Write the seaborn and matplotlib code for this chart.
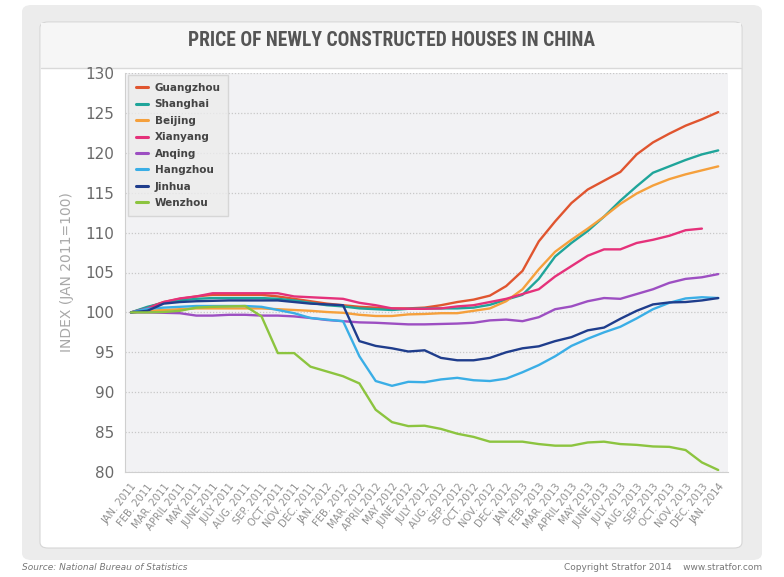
"""Price of newly constructed houses in China, Jan 2011 - Jan 2014."""

import numpy as np
import pandas as pd
import matplotlib
matplotlib.use("Agg")
import matplotlib.pyplot as plt
from matplotlib import font_manager
from matplotlib.patches import FancyBboxPatch
import seaborn as sns

# month labels, Jan 2011 .. Jan 2014
months = [
    "JAN. 2011", "FEB. 2011", "MAR. 2011", "APRIL 2011", "MAY 2011", "JUNE 2011",
    "JULY 2011", "AUG. 2011", "SEP. 2011", "OCT. 2011", "NOV. 2011", "DEC. 2011",
    "JAN. 2012", "FEB. 2012", "MAR. 2012", "APRIL 2012", "MAY 2012", "JUNE 2012",
    "JULY 2012", "AUG. 2012", "SEP. 2012", "OCT. 2012", "NOV. 2012", "DEC. 2012",
    "JAN. 2013", "FEB. 2013", "MAR. 2013", "APRIL 2013", "MAY 2013", "JUNE 2013",
    "JULY 2013", "AUG. 2013", "SEP. 2013", "OCT. 2013", "NOV. 2013", "DEC. 2013",
    "JAN. 2014",
]

guangzhou = [100, 100.6, 101.3, 101.7, 102.0, 102.2, 102.2, 102.2, 102.2, 102.0, 101.7, 101.4,
             101.1, 100.9, 100.7, 100.6, 100.5, 100.5, 100.6, 100.9, 101.3, 101.6, 102.1, 103.3,
             105.2, 108.9, 111.4, 113.7, 115.4, 116.5, 117.6, 119.8, 121.3, 122.4, 123.4, 124.2,
             125.1]
shanghai = [100, 100.7, 101.2, 101.5, 101.7, 101.8, 101.8, 101.8, 101.8, 101.7, 101.5, 101.2,
            100.9, 100.75, 100.5, 100.4, 100.3, 100.45, 100.5, 100.5, 100.5, 100.6, 100.95, 101.6,
            102.2, 104.2, 107.0, 108.7, 110.2, 112.0, 114.0, 115.8, 117.5, 118.3, 119.1, 119.8,
            120.3]
beijing = [100, 100.2, 100.3, 100.4, 100.5, 100.5, 100.5, 100.5, 100.5, 100.4, 100.3, 100.2,
           100.05, 99.95, 99.7, 99.55, 99.55, 99.75, 99.8, 99.9, 99.9, 100.2, 100.5, 101.4,
           102.9, 105.4, 107.6, 109.1, 110.5, 112.0, 113.6, 114.9, 115.9, 116.7, 117.3, 117.8,
           118.3]
xianyang = [100, 100.5, 101.3, 101.75, 102.0, 102.4, 102.4, 102.4, 102.4, 102.4, 102.0, 101.9,
            101.8, 101.7, 101.2, 100.9, 100.5, 100.45, 100.45, 100.5, 100.75, 100.9, 101.3, 101.7,
            102.3, 102.9, 104.5, 105.8, 107.1, 107.9, 107.9, 108.7, 109.1, 109.6, 110.3, 110.5,
            np.nan]
anqing = [100, 100, 99.95, 99.9, 99.6, 99.6, 99.7, 99.7, 99.6, 99.6, 99.5, 99.3,
          99.05, 98.9, 98.75, 98.7, 98.6, 98.5, 98.5, 98.55, 98.6, 98.7, 99.0, 99.1,
          98.9, 99.4, 100.4, 100.75, 101.4, 101.8, 101.7, 102.3, 102.9, 103.7, 104.2, 104.4,
          104.8]
hangzhou = [100, 100.45, 100.6, 100.7, 100.8, 100.8, 100.8, 100.8, 100.7, 100.3, 99.9, 99.3,
            99.1, 98.9, 94.5, 91.4, 90.8, 91.3, 91.25, 91.6, 91.8, 91.5, 91.4, 91.7,
            92.5, 93.4, 94.5, 95.8, 96.7, 97.5, 98.2, 99.25, 100.4, 101.2, 101.75, 101.9,
            101.8]
jinhua = [100, 100.2, 101.1, 101.3, 101.4, 101.45, 101.5, 101.5, 101.5, 101.5, 101.3, 101.1,
          101.0, 100.9, 96.4, 95.8, 95.5, 95.1, 95.25, 94.3, 94.0, 94.0, 94.3, 95.0,
          95.5, 95.75, 96.4, 96.9, 97.75, 98.1, 99.2, 100.2, 101.0, 101.25, 101.3, 101.5,
          101.8]
wenzhou = [100, 100, 100.05, 100.2, 100.6, 100.7, 100.75, 100.8, 99.5, 94.9, 94.9, 93.2,
           92.6, 92.0, 91.1, 87.8, 86.25, 85.75, 85.8, 85.4, 84.8, 84.4, 83.8, 83.8,
           83.8, 83.5, 83.3, 83.3, 83.7, 83.8, 83.5, 83.4, 83.2, 83.15, 82.75, 81.2,
           80.25]

cities = ["Guangzhou", "Shanghai", "Beijing", "Xianyang", "Anqing", "Hangzhou", "Jinhua", "Wenzhou"]
colors = ["#e0552f", "#1fa59a", "#f5a03c", "#e5317a", "#9d4fc2", "#3aaee6", "#1f3d8c", "#8cc43f"]


def build_frame() -> pd.DataFrame:
    series = [guangzhou, shanghai, beijing, xianyang, anqing, hangzhou, jinhua, wenzhou]
    rows = []
    for city, vals in zip(cities, series):
        for i, v in enumerate(vals):
            rows.append({"month": i, "city": city, "index": v})
    return pd.DataFrame(rows).dropna()


def pick_condensed() -> str:
    names = {f.name for f in font_manager.fontManager.ttflist}
    for name in ["Liberation Sans Narrow", "DejaVu Sans Condensed", "Roboto Condensed",
                 "Open Sans Condensed"]:
        if name in names:
            return name
    return "DejaVu Sans"


def draw_chart(df: pd.DataFrame) -> None:
    sns.set_style("white")
    fig = plt.figure(figsize=(7.84, 5.77), dpi=100)
    W, H = 784, 577

    # outer grey panel and white card, kept behind the axes
    fig.patches.append(FancyBboxPatch((22 / W, 1 - 560 / H), 740 / W, 555 / H,
                                      boxstyle="round,pad=0,rounding_size=0.012",
                                      transform=fig.transFigure, facecolor="#ececec",
                                      edgecolor="none", zorder=-10))
    fig.patches.append(FancyBboxPatch((40 / W, 1 - 548 / H), 702 / W, 526 / H,
                                      boxstyle="round,pad=0,rounding_size=0.01",
                                      transform=fig.transFigure, facecolor="white",
                                      edgecolor="#d6d6d6", linewidth=0.8, zorder=-9))
    fig.patches.append(FancyBboxPatch((41 / W, 1 - 68 / H), 700 / W, 45 / H,
                                      boxstyle="square,pad=0",
                                      transform=fig.transFigure, facecolor="#f6f6f6",
                                      edgecolor="none", zorder=-8))
    fig.lines.append(plt.Line2D([41 / W, 741 / W], [1 - 68 / H, 1 - 68 / H],
                                transform=fig.transFigure, color="#d9d9d9", lw=1,
                                zorder=-7))

    title = fig.text(0.5, 1 - 41 / H, "PRICE OF NEWLY CONSTRUCTED HOUSES IN CHINA",
                     ha="center", va="center", fontsize=16, fontweight="bold",
                     color="#555555", family=[pick_condensed(), "DejaVu Sans"])
    # squeeze the title to the width it has in the original (about 405 px)
    renderer = fig.canvas.get_renderer()
    width = title.get_window_extent(renderer).width
    if width > 410:
        title.set_fontsize(16 * 407 / width)

    ax = fig.add_axes([125 / W, 1 - 472 / H, (728 - 125) / W, (472 - 73) / H])
    ax.set_zorder(5)
    ax.set_facecolor("#f2f2f4")

    sns.lineplot(data=df, x="month", y="index", hue="city", hue_order=cities,
                 palette=colors, linewidth=1.7, ax=ax)

    ax.set_xlim(-0.37, 36.6)
    ax.set_ylim(80, 130)
    ax.set_yticks(range(80, 131, 5))
    ax.yaxis.grid(True, linestyle=(0, (1, 1.5)), color="#c8c8c8", linewidth=0.9)
    ax.set_axisbelow(True)
    for side in ["top", "right"]:
        ax.spines[side].set_visible(False)
    ax.spines["left"].set_color("#cfcfcf")
    ax.spines["bottom"].set_color("#cfcfcf")

    ax.set_xticks(range(len(months)))
    ax.set_xticklabels(months, rotation=52, ha="right", rotation_mode="anchor",
                       fontsize=7.2, color="#909090")
    ax.tick_params(axis="x", length=5, color="#cfcfcf", direction="out", pad=2)
    ax.tick_params(axis="y", length=0, labelsize=11, labelcolor="#6a6a6a", pad=8)
    ax.set_xlabel("")
    ax.set_ylabel("INDEX (JAN 2011=100)", fontsize=10, color="#a8a8a8", labelpad=8)

    leg = ax.legend(loc="upper left", bbox_to_anchor=(0.005, 0.995), frameon=True,
                    borderaxespad=0, fontsize=7.5, handlelength=1.2, handletextpad=0.6,
                    labelspacing=0.62, borderpad=0.75, title=None)
    leg.get_frame().set_facecolor("#ececec")
    leg.get_frame().set_edgecolor("#d0d0d0")
    leg.get_frame().set_boxstyle("square", pad=0)
    for t in leg.get_texts():
        t.set_color("#444444")
        t.set_fontweight("bold")
    for line in leg.get_lines():
        line.set_linewidth(2.2)

    fig.text(22 / W, 1 - 568 / H, "Source: National Bureau of Statistics",
             ha="left", va="center", fontsize=6.5, style="italic", color="#777777")
    fig.text(762 / W, 1 - 568 / H, "Copyright Stratfor 2014    www.stratfor.com",
             ha="right", va="center", fontsize=6.5, color="#777777")

    fig.savefig("out.png", dpi=100, facecolor="white")
    plt.close(fig)


if __name__ == "__main__":
    draw_chart(build_frame())
